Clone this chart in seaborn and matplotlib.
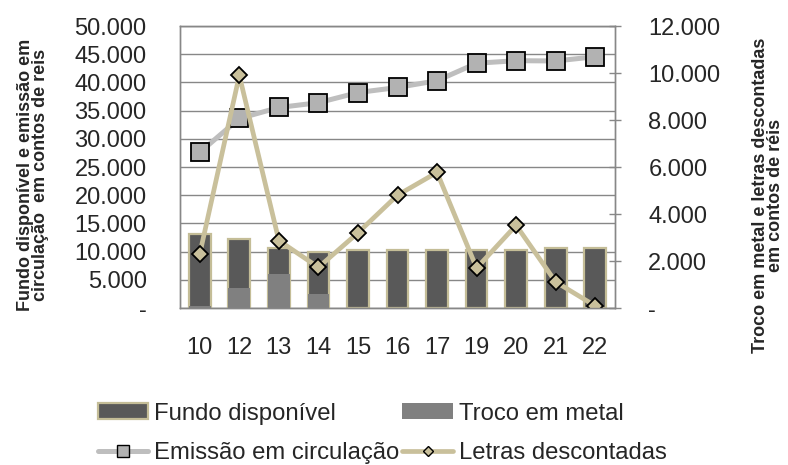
import matplotlib
matplotlib.use("Agg")
import matplotlib.pyplot as plt
import seaborn as sns
import numpy as np
from matplotlib.ticker import FuncFormatter, FixedLocator
from matplotlib.patches import Patch
from matplotlib.lines import Line2D

sns.set_style("white")
plt.rcParams['font.family'] = ['Liberation Sans', 'DejaVu Sans']

# dados (contos de réis)
anos = ['10', '12', '13', '14', '15', '16', '17', '19', '20', '21', '22']
fundo = [13200, 12150, 10700, 9950, 10350, 10350, 10350, 10350, 10350, 10700, 10700]
emissao = [27600, 33600, 35550, 36400, 38200, 39100, 40300, 43400, 43850, 43800, 44550]
troco = [70, 850, 1430, 580, 0, 0, 0, 0, 0, 0, 0]
letras = [2300, 9900, 2870, 1730, 3200, 4800, 5770, 1700, 3520, 1110, 90]

c_fundo = '#595959'
c_borda = '#C4BD97'
c_troco = '#808080'
c_emis = '#BEBEBE'
c_letras = '#C9C09B'
c_grid = '#878787'

fig = plt.figure(figsize=(7.88, 4.65), dpi=100)
ax = fig.add_axes([180 / 788, 1 - 308 / 465, (615 - 180) / 788, (308 - 26) / 465])
ax2 = ax.twinx()

# eixo principal: fundo disponível + emissão
sns.barplot(x=anos, y=fundo, color=c_fundo, saturation=1, width=0.55,
            edgecolor=c_borda, linewidth=1.6, ax=ax, zorder=2)
sns.pointplot(x=anos, y=emissao, color=c_emis, errorbar=None, ax=ax,
              marker='s', markersize=12.5, markerfacecolor='#B2B2B2',
              markeredgecolor='black', markeredgewidth=1.3, linewidth=3.6)

# eixo secundário: troco em metal + letras descontadas
sns.barplot(x=anos, y=troco, color=c_troco, saturation=1, width=0.55,
            linewidth=0, ax=ax2)
sns.pointplot(x=anos, y=letras, color=c_letras, errorbar=None, ax=ax2,
              marker='D', markersize=8.5, markerfacecolor=c_letras,
              markeredgecolor='black', markeredgewidth=1.3, linewidth=3.4)

fmt = FuncFormatter(lambda v, p: '-' if v == 0 else f'{v:,.0f}'.replace(',', '.'))

ax.set_ylim(0, 50000)
ax.set_yticks(np.arange(0, 50001, 5000))
ax.yaxis.set_major_formatter(fmt)
ax2.set_ylim(0, 12000)
ax2.set_yticks(np.arange(0, 12001, 2000))
ax2.yaxis.set_major_formatter(fmt)
ax.set_xlim(-0.5, len(anos) - 0.5)

ax.yaxis.grid(True, color=c_grid, linewidth=1.0, zorder=0)
ax.set_axisbelow(True)

ax.tick_params(axis='y', length=0, pad=24, labelsize=17)
ax2.tick_params(axis='y', direction='inout', length=8, width=1, color=c_grid,
                pad=20, labelsize=17)
ax.tick_params(axis='x', which='major', length=0, pad=21, labelsize=17)
ax.xaxis.set_minor_locator(FixedLocator(np.arange(-0.5, len(anos), 1)))
ax.tick_params(axis='x', which='minor', direction='inout', length=10, width=1,
               color=c_grid)

for a in (ax, ax2):
    for s in a.spines.values():
        s.set_color(c_grid)
        s.set_linewidth(1.0)
    a.set_xlabel('')
    a.set_ylabel('')

fig.text(33 / 788, 1 - 175 / 465,
         'Fundo disponível e emissão em\ncirculação  em contos de reis',
         rotation=90, ha='center', va='center', fontsize=13,
         fontweight='bold', linespacing=0.9, multialignment='center')
fig.text(768 / 788, 1 - 195 / 465,
         'Troco em metal e letras descontadas\nem contos de réis',
         rotation=90, ha='center', va='center', fontsize=13,
         fontweight='bold', linespacing=0.9, multialignment='center')

handles = [
    Patch(facecolor=c_fundo, edgecolor=c_borda, linewidth=1.6),
    Line2D([], [], color=c_emis, linewidth=3.6, marker='s', markersize=8,
           markerfacecolor='#B2B2B2', markeredgecolor='black'),
    Patch(facecolor=c_troco, edgecolor='none'),
    Line2D([], [], color=c_letras, linewidth=3.4, marker='D', markersize=5.5,
           markerfacecolor=c_letras, markeredgecolor='black'),
]
labels = ['Fundo disponível', 'Emissão em circulação',
          'Troco em metal', 'Letras descontadas']
fig.legend(handles, labels, ncol=2, loc='upper left',
           bbox_to_anchor=(76 / 788, 1 - 381 / 465), frameon=False, fontsize=17.2,
           handlelength=2.1, handleheight=0.6, handletextpad=0.25,
           columnspacing=0.15, labelspacing=0.72, borderpad=0.4)

fig.savefig('out.png', dpi=100)
